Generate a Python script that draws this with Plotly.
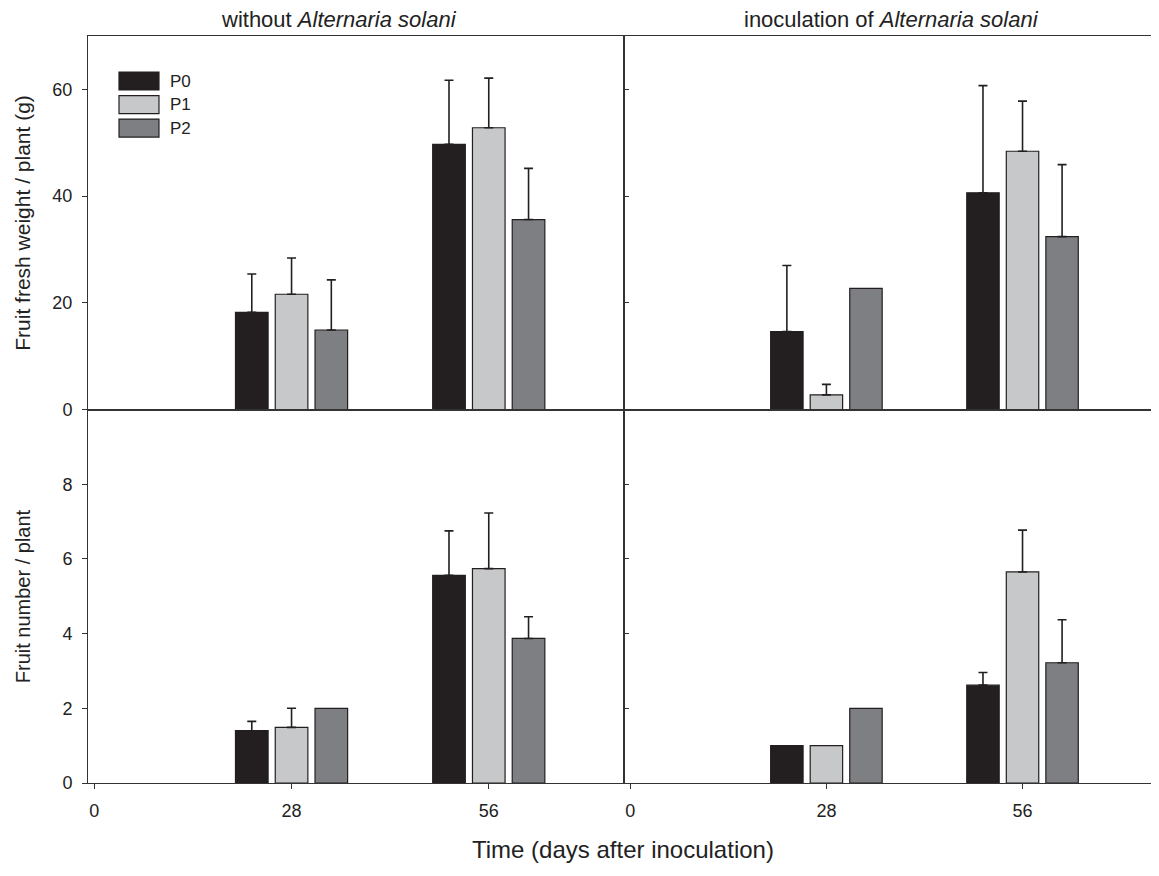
import numpy as np
import plotly.graph_objects as go

# ---------------- data ----------------
days = [28, 56]
series = ["P0", "P1", "P2"]
colors = {"P0": "#231f20", "P1": "#c7c8ca", "P2": "#7e7f83"}

# Fruit fresh weight / plant (g)
fw_without = {"P0": [18.2, 49.7], "P1": [21.6, 52.8], "P2": [14.9, 35.6]}
fw_without_err = {"P0": [7.2, 12.0], "P1": [6.8, 9.3], "P2": [9.4, 9.6]}
fw_inoc = {"P0": [14.6, 40.6], "P1": [2.75, 48.4], "P2": [22.7, 32.4]}
fw_inoc_err = {"P0": [12.4, 20.1], "P1": [1.95, 9.4], "P2": [None, 13.5]}

# Fruit number / plant
fn_without = {"P0": [1.40, 5.56], "P1": [1.49, 5.74], "P2": [2.0, 3.87]}
fn_without_err = {"P0": [0.25, 1.19], "P1": [0.51, 1.49], "P2": [None, 0.58]}
fn_inoc = {"P0": [1.0, 2.62], "P1": [1.0, 5.65], "P2": [2.0, 3.22]}
fn_inoc_err = {"P0": [None, 0.34], "P1": [None, 1.12], "P2": [None, 1.15]}

x_ticks = [0, 28, 56]
fw_ticks = [0, 20, 40, 60]
fn_ticks = [0, 2, 4, 6, 8]

titles = ["without <i>Alternaria solani</i>", "inoculation of <i>Alternaria solani</i>"]
ytitle_top = "Fruit fresh weight / plant (g)"
ytitle_bottom = "Fruit number / plant"
xtitle = "Time (days after inoculation)"

# ---------------- figure ----------------
FONT = "Liberation Sans, Arial, sans-serif"
LINE = "#333333"
TXT = "#222222"
fig = go.Figure()

panels = [
    ("x", "y", fw_without, fw_without_err),
    ("x2", "y2", fw_inoc, fw_inoc_err),
    ("x3", "y3", fn_without, fn_without_err),
    ("x4", "y4", fn_inoc, fn_inoc_err),
]

for xa, ya, vals, errs in panels:
    for s in series:
        e = np.array([np.nan if v is None else v for v in errs[s]], dtype=float)
        em = np.where(np.isnan(e), np.nan, 0.0)
        fig.add_trace(go.Bar(
            x=days, y=vals[s], name=s, xaxis=xa, yaxis=ya,
            marker=dict(color=colors[s], line=dict(color="#231f20", width=1.2)),
            error_y=dict(type="data", symmetric=False, array=e, arrayminus=em,
                         color="#231f20", thickness=1.6, width=4.5),
            showlegend=False,
        ))

xdom_l = [0, 0.5014]
xdom_r = [0.5014, 1]
ydom_t = [0.5, 1]
ydom_b = [0, 0.5]
xrange_ = [-0.9, 75.2]

common_x = dict(range=xrange_, showline=True, linecolor=LINE, linewidth=1, mirror=True,
                showgrid=False, zeroline=False, tickvals=x_ticks, automargin=False,
                tickfont=dict(size=18, color=TXT, family=FONT))
common_y = dict(showline=True, linecolor=LINE, linewidth=1, mirror=True,
                showgrid=False, zeroline=False, automargin=False,
                tickfont=dict(size=18, color=TXT, family=FONT))

# legend (drawn as swatches + labels in the top-left panel)
leg_x0, leg_x1, leg_tx = 0.0290, 0.0664, 0.0748
leg_top, leg_h, leg_step = 0.9518, 0.0241, 0.0315
shapes = []
annotations = []
for i, s in enumerate(series):
    yt = leg_top - i * leg_step
    shapes.append(dict(type="rect", xref="paper", yref="paper",
                       x0=leg_x0, x1=leg_x1, y0=yt - leg_h, y1=yt,
                       fillcolor=colors[s], line=dict(color="#231f20", width=1.2)))
    annotations.append(dict(text=s, x=leg_tx, y=yt - leg_h / 2, xref="paper", yref="paper",
                            xanchor="left", yanchor="middle", showarrow=False,
                            font=dict(size=17, family=FONT, color=TXT)))

annotations += [
    dict(text=titles[0], x=0.235, xref="paper", y=1, yref="paper",
         xanchor="center", yanchor="bottom", yshift=3, borderpad=0, showarrow=False,
         font=dict(size=22, family=FONT, color=TXT)),
    dict(text=titles[1], x=0.752, xref="paper", y=1, yref="paper",
         xanchor="center", yanchor="bottom", yshift=3, borderpad=0, showarrow=False,
         font=dict(size=22, family=FONT, color=TXT)),
    dict(text=xtitle, x=0.5005, xref="paper", y=0, yref="paper",
         xanchor="center", yanchor="middle", yshift=-66, showarrow=False,
         font=dict(size=24, family=FONT, color=TXT)),
    dict(text=ytitle_top, x=0, xref="paper", y=0.75, yref="paper", textangle=-90,
         xanchor="center", yanchor="middle", xshift=-65, borderpad=0, showarrow=False,
         font=dict(size=21, family=FONT, color=TXT)),
    dict(text=ytitle_bottom, x=0, xref="paper", y=0.25, yref="paper", textangle=-90,
         xanchor="center", yanchor="middle", xshift=-65, borderpad=0, showarrow=False,
         font=dict(size=20, family=FONT, color=TXT)),
]

fig.update_layout(
    xaxis=dict(common_x, domain=xdom_l, anchor="y", ticks="", showticklabels=False),
    xaxis2=dict(common_x, domain=xdom_r, anchor="y2", ticks="", showticklabels=False),
    xaxis3=dict(common_x, domain=xdom_l, anchor="y3", ticks="outside", ticklen=5,
                tickcolor=LINE, ticklabelstandoff=6),
    xaxis4=dict(common_x, domain=xdom_r, anchor="y4", ticks="outside", ticklen=5,
                tickcolor=LINE, ticklabelstandoff=6),
    yaxis=dict(common_y, domain=ydom_t, anchor="x", range=[0, 70], tickvals=fw_ticks,
               ticks="outside", ticklen=5, tickcolor=LINE, ticklabelstandoff=6),
    yaxis2=dict(common_y, domain=ydom_t, anchor="x2", range=[0, 70], tickvals=fw_ticks,
                ticks="inside", ticklen=5, tickcolor=LINE, showticklabels=False),
    yaxis3=dict(common_y, domain=ydom_b, anchor="x3", range=[0, 10], tickvals=fn_ticks,
                ticks="outside", ticklen=5, tickcolor=LINE, ticklabelstandoff=6),
    yaxis4=dict(common_y, domain=ydom_b, anchor="x4", range=[0, 10],
                tickvals=fn_ticks + [10], ticks="inside", ticklen=5, tickcolor=LINE,
                showticklabels=False),
    barmode="group",
    bargap=0.395,
    bargroupgap=0.18,
    width=1151, height=868,
    margin=dict(l=80, r=2, t=28, b=93),
    paper_bgcolor="white", plot_bgcolor="white",
    font=dict(family=FONT, color=TXT),
    showlegend=False,
    shapes=shapes,
    annotations=annotations,
)

fig.write_html("out.html")
